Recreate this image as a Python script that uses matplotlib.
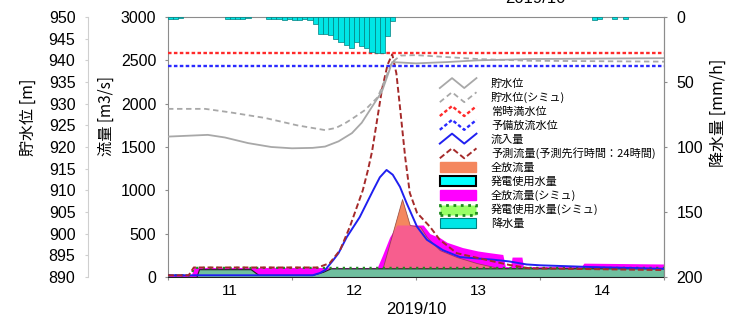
import numpy as np
import matplotlib
matplotlib.use('Agg')
import matplotlib.pyplot as plt
from matplotlib.patches import Patch
from matplotlib.lines import Line2D
from matplotlib.legend_handler import HandlerLine2D

plt.rcParams['font.family'] = ['Liberation Sans', 'Noto Sans CJK JP']

# hours since 2019/10/11 00:00
lvl_h = [0, 7.7, 11, 15.5, 20, 24, 28, 30.4, 33, 35.6, 37.5, 39.5, 41.4, 42.5, 43.4, 45, 48, 54, 60, 70, 96]
lvl_obs = [922.4, 922.8, 922.2, 920.9, 920.0, 919.7, 919.8, 920.1, 921.3, 923.2, 925.6, 929.3, 932.8,
           936.5, 939.6, 939.5, 939.3, 939.6, 940.0, 940.3, 940.5]
sim_lvl_h = [0, 7.2, 12, 18.8, 25, 30.4, 32.5, 34.3, 36, 38.1, 40.6, 42, 43.3, 45, 48, 52, 60, 70, 96]
sim_lvl = [928.8, 928.8, 928.0, 926.7, 925.0, 923.9, 924.4, 925.5, 926.8, 928.5, 931.5, 935.5, 939.5,
           941.1, 941.2, 940.9, 940.3, 939.9, 939.7]
full_level = 941.7
prerelease_level = 938.8

in_h = [0, 28, 29.4, 30.4, 32, 33, 34.6, 37.1, 39.7, 41, 42.3, 43.5, 44.9, 46.2, 48.2, 50.1, 53.2, 56.5,
        62.9, 66, 69.4, 72, 82, 96]
inflow = [20, 20, 46, 80, 196, 275, 460, 690, 1000, 1150, 1235, 1180, 1040, 850, 580, 430, 310, 230,
          200, 180, 145, 135, 115, 95]

pred_h = [0, 4, 5, 29, 31.3, 33.3, 35.2, 37.7, 38.7, 39.5, 41.4, 42.5, 43.4, 44.2, 44.9, 45.9, 46.8,
          48.2, 50.7, 52.6, 55.9, 61.7, 66, 70, 96]
pred = [20, 20, 110, 110, 160, 310, 580, 1000, 1234, 1450, 2160, 2450, 2570, 2350, 1960, 1385, 970,
        740, 580, 430, 275, 196, 140, 100, 80]

out_h = [0, 41, 41.6, 45.3, 46.8, 48.8, 50.1, 52.6, 55.9, 59.8, 64.3, 96]
out_act = [0, 0, 115, 900, 600, 580, 460, 310, 230, 160, 100, 100]
sim_out_h = [0, 4.5, 5, 40.5, 41.5, 42.9, 44.3, 49.4, 50.7, 52.7, 54, 57, 60, 62.3, 64.8, 65.3, 66.3,
             66.6, 68.5, 68.8, 80, 80.5, 96]
sim_out = [20, 20, 110, 110, 250, 460, 600, 600, 500, 450, 400, 340, 300, 280, 260, 120, 120,
           230, 230, 120, 120, 160, 150]

pw_h = [0, 5.5, 6, 16, 17.5, 28, 30, 31.5, 96]
pw_act = [0, 0, 90, 90, 25, 25, 60, 100, 100]
pw_sim_h = [0, 4.5, 5, 96]
pw_sim = [20, 20, 105, 105]

rain_h = [0, 1, 2, 11, 12, 13, 14, 15, 19, 20, 21, 22, 23, 24, 25, 26, 27, 28,
          29, 30, 31, 32, 33, 34, 35, 36, 37, 38, 39, 40, 41, 42, 43, 82, 83, 86, 88]
rain_mm = [1.5, 1.5, 1, 1.5, 1.5, 1.5, 1.5, 1, 1.5, 1.5, 1.5, 2, 1.5, 2, 2, 1.5, 2, 5,
           13, 13, 14, 17, 19, 21.5, 23.5, 19, 22, 24, 27, 27.5, 27.5, 14.5, 2.8, 2, 1.5, 1.5, 1.5]

day_labels = ['11', '12', '13', '14']


class HandlerZigzag(HandlerLine2D):
    def create_artists(self, legend, orig_handle, xdescent, ydescent, width, height, fontsize, trans):
        xs = np.array([0, 1 / 3, 2 / 3, 1]) * width - xdescent
        ys = np.array([0, 1, 0, 1]) * height - ydescent
        line = Line2D(xs, ys)
        self.update_prop(line, orig_handle, legend)
        line.set_transform(trans)
        return [line]


fig = plt.figure(figsize=(7.29, 3.18), dpi=100)
ax = fig.add_axes([168 / 729, 41 / 318, 496 / 729, 260 / 318])
ax_lvl = ax.twinx()
ax_rain = ax.twinx()

spine_c = '#8c8c8c'

# flows
ax.fill_between(out_h, 0, out_act, color='#F4875E', lw=0, zorder=1)
ax.fill_between(sim_out_h, 0, sim_out, color='#FF00FF', lw=0, zorder=2)
ax.fill_between(out_h, 0, out_act, facecolor='#F4875E', alpha=0.7, edgecolor='#7a3a3a', lw=0.6, zorder=3)
ax.fill_between(pw_h, 0, pw_act, facecolor='#6FBF9F', edgecolor='#202020', lw=0.8, zorder=4)
ax.plot(pw_sim_h, pw_sim, color='#1E8C1E', lw=1.6, ls=(0, (1, 2)), zorder=5)
h_in, = ax.plot(in_h, inflow, color='#2020F0', lw=1.4, zorder=6)
h_pred, = ax.plot(pred_h, pred, color='#A52A2A', lw=1.4, ls=(0, (3, 1.5)), zorder=7)
ax.set_xlim(0, 96)
ax.set_ylim(0, 3000)
ax.set_yticks(range(0, 3001, 500))
ax.set_xticks([0, 24, 48, 72, 96])
ax.set_xticklabels([])
ax.set_xticks([12, 36, 60, 84], minor=True)
ax.set_xticklabels(day_labels, minor=True)
ax.tick_params(axis='x', which='minor', length=0, labelsize=11, pad=5)
ax.tick_params(axis='x', which='major', length=2.5, color=spine_c)
ax.tick_params(axis='y', length=2.5, color=spine_c, labelsize=11.5, pad=6)
for s in ax.spines.values():
    s.set_color(spine_c)
ax.set_xlabel('2019/10', fontsize=12, labelpad=3)
ax.set_ylabel('流量 [m3/s]', fontsize=11, family=['Noto Sans CJK JP'])
ax.yaxis.set_label_coords(-0.107, 0.62)

# water levels
h_lvl, = ax_lvl.plot(lvl_h, lvl_obs, color='#A8A8A8', lw=1.3)
h_slvl, = ax_lvl.plot(sim_lvl_h, sim_lvl, color='#A8A8A8', lw=1.3, ls=(0, (3, 2)))
h_full = ax_lvl.axhline(full_level, color='#FF2A2A', lw=1.7, ls=(0, (1.5, 1)))
h_pre = ax_lvl.axhline(prerelease_level, color='#2A2AFF', lw=1.7, ls=(0, (1.5, 1)))
ax_lvl.set_ylim(890, 950)
ax_lvl.set_yticks(range(890, 951, 5))
ax_lvl.yaxis.tick_left()
ax_lvl.yaxis.set_label_position('left')
ax_lvl.spines['left'].set_position(('outward', 57.6))
ax_lvl.spines['left'].set_color('#cfcfcf')
for k in ['right', 'top', 'bottom']:
    ax_lvl.spines[k].set_visible(False)
ax_lvl.tick_params(axis='y', length=2.5, color='#cfcfcf', labelsize=11.5, pad=6.5)
ax_lvl.set_ylabel('貯水位 [m]', fontsize=11.5, family=['Noto Sans CJK JP'])
ax_lvl.yaxis.set_label_coords(-0.264, 0.615)

# rainfall
ax_rain.bar(rain_h, rain_mm, width=1, align='edge', color='#00E6E6', edgecolor='#008080', lw=0.5)
ax_rain.set_ylim(200, 0)
ax_rain.set_yticks(range(0, 201, 50))
for k in ['left', 'top', 'bottom']:
    ax_rain.spines[k].set_visible(False)
ax_rain.spines['right'].set_color(spine_c)
ax_rain.tick_params(axis='y', length=2.5, color=spine_c, labelsize=11.5, pad=6.5)
ax_rain.set_ylabel('降水量 [mm/h]', fontsize=11.5, family=['Noto Sans CJK JP'])
ax_rain.yaxis.set_label_coords(1.093, 0.63)

handles = [
    h_lvl, h_slvl, h_full, h_pre, h_in, h_pred,
    Patch(facecolor='#F4875E', edgecolor='#F4875E'),
    Patch(facecolor='#00FFFF', edgecolor='#000000', lw=1.5),
    Patch(facecolor='#FF00FF', edgecolor='#FF00FF'),
    Patch(facecolor='#99FF66', edgecolor='#1E8C1E', lw=2, ls=':'),
    Patch(facecolor='#00E6E6', edgecolor='#008080', lw=0.8),
]
labels = ['貯水位', '貯水位(シミュ)', '常時満水位', '予備放流水位', '流入量',
          '予測流量(予測先行時間：24時間)', '全放流量', '発電使用水量',
          '全放流量(シミュ)', '発電使用水量(シミュ)', '降水量']
ax_rain.legend(handles, labels, handler_map={Line2D: HandlerZigzag()}, loc='upper left',
               bbox_to_anchor=(0.548, 0.765), frameon=False, borderpad=0, borderaxespad=0,
               prop={'family': 'Noto Sans CJK JP', 'size': 8}, labelspacing=0.27,
               handlelength=3.3, handleheight=1.0, handletextpad=1.3)

fig.text(535 / 729, 1.005, '2019/10', ha='center', va='center', fontsize=12)

fig.savefig('out.png', dpi=100)
